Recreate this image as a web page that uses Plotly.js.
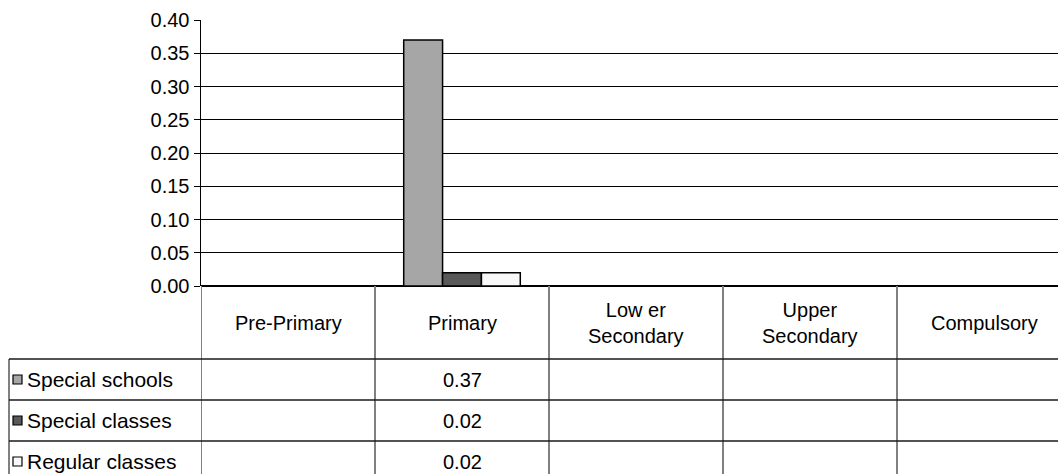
<!DOCTYPE html>
<html>
<head>
<meta charset="utf-8">
<script src="https://cdn.plot.ly/plotly-3.0.1.min.js"></script>
<style>
  html, body { margin: 0; padding: 0; background: #fff; overflow: hidden; }
  #chart { width: 1058px; height: 474px; }
</style>
</head>
<body>
<div id="chart"></div>
<script>
// ---- data ----
const categories = ['Pre-Primary', 'Primary', 'Low er<br>Secondary', 'Upper<br>Secondary', 'Compulsory'];
const seriesNames = ['Special schools', 'Special classes', 'Regular classes'];
const specialSchools = [null, 0.37, null, null, null];
const specialClasses = [null, 0.02, null, null, null];
const regularClasses = [null, 0.02, null, null, null];
const yTickValues = [0, 0.05, 0.10, 0.15, 0.20, 0.25, 0.30, 0.35, 0.40];

// ---- style / layout ----
const seriesData = [specialSchools, specialClasses, regularClasses];
const colors = ['#A6A6A6', '#595959', '#F8F8F8'];
const W = 1058, H = 474, L = 201, T = 20, B = 188;
const plotW = W - L, plotH = H - T - B;
const px = X => (X - L) / plotW;
const py = Y => (H - B - Y) / plotH;
const FONT = 'Liberation Sans, Arial, sans-serif';
const FS = 20;

const xIdx = categories.map((c, i) => i);

const traces = seriesData.map((vals, k) => ({
  type: 'bar',
  name: seriesNames[k],
  x: xIdx,
  y: vals,
  marker: { color: colors[k], line: { color: '#000', width: 1.5 } },
  hoverinfo: 'skip'
}));

const headerBottom = 359, rowH = 41, labelLeft = 9;
const shapes = [];
const annotations = [];

// vertical table lines at category boundaries
for (let i = 0; i < categories.length; i++) {
  shapes.push({ type: 'line', xref: 'x', yref: 'paper', x0: i - 0.5, x1: i - 0.5,
    y0: 0, y1: py(H + 10), line: { color: '#808080', width: 2 } });
}
// label column left border
shapes.push({ type: 'line', xref: 'paper', yref: 'paper', x0: px(labelLeft), x1: px(labelLeft),
  y0: py(headerBottom), y1: py(H + 10), line: { color: '#808080', width: 2 } });
// horizontal row lines
for (let r = 0; r < seriesNames.length; r++) {
  const Y = headerBottom + r * rowH;
  shapes.push({ type: 'line', xref: 'paper', yref: 'paper', x0: px(labelLeft), x1: 1.05,
    y0: py(Y), y1: py(Y), line: { color: '#1a1a1a', width: 1.5 } });
}
// header labels
categories.forEach((c, i) => {
  annotations.push({ xref: 'x', yref: 'paper', x: i, y: py((286 + headerBottom) / 2),
    text: c, showarrow: false, xanchor: 'center', yanchor: 'middle', align: 'center',
    font: { family: FONT, size: FS, color: '#000' } });
});
// row labels, legend keys, values
seriesNames.forEach((name, r) => {
  const cy = headerBottom + r * rowH + rowH / 2;
  shapes.push({ type: 'rect', xref: 'paper', yref: 'paper',
    x0: px(13), x1: px(22), y0: py(cy - 4.5), y1: py(cy + 4.5),
    fillcolor: colors[r], line: { color: '#000', width: 1.2 } });
  annotations.push({ xref: 'paper', yref: 'paper', x: px(25), y: py(cy),
    text: name, showarrow: false, xanchor: 'left', yanchor: 'middle',
    font: { family: FONT, size: 21, color: '#000' } });
  seriesData[r].forEach((v, i) => {
    if (v !== null) {
      annotations.push({ xref: 'x', yref: 'paper', x: i, y: py(cy),
        text: v.toFixed(2), showarrow: false, xanchor: 'center', yanchor: 'middle',
        font: { family: FONT, size: FS, color: '#000' } });
    }
  });
});

const layout = {
  width: W, height: H,
  margin: { l: L, r: 0, t: T, b: B, pad: 0 },
  paper_bgcolor: '#fff', plot_bgcolor: '#fff',
  showlegend: false,
  barmode: 'group',
  bargap: 0.33, bargroupgap: 0,
  font: { family: FONT, size: FS, color: '#000' },
  xaxis: {
    type: 'linear',
    range: [-0.5, -0.5 + plotW / 174],
    showticklabels: false, ticks: '', showgrid: false, zeroline: false,
    showline: false, fixedrange: true
  },
  yaxis: {
    range: [0, 0.40],
    tickvals: yTickValues,
    tickformat: '.2f',
    ticks: 'outside', ticklen: 6, tickcolor: '#000', tickwidth: 1,
    showgrid: true, gridcolor: '#000', gridwidth: 1,
    showline: true, linecolor: '#000', linewidth: 1.5,
    zeroline: true, zerolinecolor: '#000', zerolinewidth: 1.5,
    tickfont: { family: FONT, size: FS, color: '#000' },
    fixedrange: true
  },
  shapes: shapes,
  annotations: annotations
};

Plotly.newPlot('chart', traces, layout, { displayModeBar: false, staticPlot: true });
</script>
</body>
</html>
